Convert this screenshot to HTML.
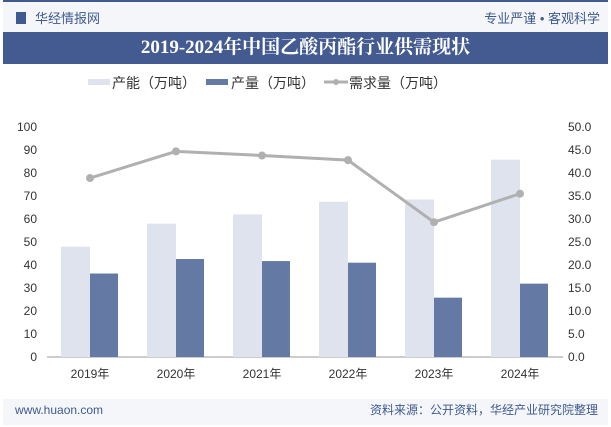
<!DOCTYPE html>
<html><head><meta charset="utf-8"><style>
body{margin:0;width:611px;height:427px;background:#fff;font-family:"Liberation Sans","Noto Sans CJK SC",sans-serif;overflow:hidden;position:relative}
.top{position:absolute;left:3px;top:0;width:605px;height:32px;background:#f4f6fa;border-top:2px solid #3f5a8f}
.title{position:absolute;left:3px;top:32px;width:605px;height:32px;background:#435b91;color:#fff;font-family:"Liberation Serif","Noto Serif CJK SC",serif;font-weight:bold;font-size:19px;text-align:center;line-height:32px}
.foot{position:absolute;left:3px;top:399px;width:605px;height:26px;background:#f4f6fa;font-size:12px;line-height:22px}
</style></head><body>
<div class="top">
 <span style="position:absolute;left:13px;top:10px;width:10px;height:12px;background:#3f5a8f"></span>
 <span style="position:absolute;left:32px;top:6px;font-size:13px;color:#3f5a8f">华经情报网</span>
 <span style="position:absolute;right:8px;top:6px;font-size:13px;color:#3f5a8f">专业严谨 • 客观科学</span>
</div>
<div class="title">2019-2024年中国乙酸丙酯行业供需现状</div>
<svg id="c" width="611" height="340" style="position:absolute;left:0;top:64px"></svg>
<div class="foot">
 <span style="position:absolute;left:12px;color:#3f5a8f">www.huaon.com</span>
 <span style="position:absolute;right:10px;color:#3f5a8f">资料来源：公开资料，华经产业研究院整理</span>
</div>
<script>
const categories=["2019年","2020年","2021年","2022年","2023年","2024年"];
const capacity=[48,58,62,67.5,68.5,85.8];
const production=[36.3,42.6,41.7,41,25.8,31.9];
const demand=[38.9,44.7,43.8,42.8,29.3,35.5];
const leftTicks=[0,10,20,30,40,50,60,70,80,90,100];
const rightTicks=["0.0","5.0","10.0","15.0","20.0","25.0","30.0","35.0","40.0","45.0","50.0"];
const NS="http://www.w3.org/2000/svg",svg=document.getElementById('c');
const oy=64,x0=47,x1=563,yb=357-oy,yt=127-oy;
const yL=v=>yb-(v/100)*(yb-yt), yR=v=>yb-(v/50)*(yb-yt);
const bw=(x1-x0)/categories.length, xc=i=>x0+bw*(i+0.5);
function mk(t,a,txt){const e=document.createElementNS(NS,t);for(const k in a)e.setAttribute(k,a[k]);if(txt!=null)e.textContent=txt;svg.appendChild(e);return e;}
let e;
leftTicks.forEach(v=>{e=mk('text',{x:x0-10,y:yL(v)+4,'text-anchor':'end','font-size':12,fill:'#333'},v);
});
rightTicks.forEach((v,i)=>{e=mk('text',{x:x1+5,y:yR(i*5)+4,'font-size':12,fill:'#333'},v);
});
e=mk('line',{x1:x0,x2:x1,y1:yb,y2:yb,stroke:'#999'});

categories.forEach((c,i)=>{
 e=mk('rect',{x:xc(i)-29,y:yL(capacity[i]),width:29,height:yb-yL(capacity[i]),fill:'#dfe3ee'});
 
 e=mk('rect',{x:xc(i),y:yL(production[i]),width:28,height:yb-yL(production[i]),fill:'#6479a3'});
 
 e=mk('text',{x:xc(i),y:yb+21,'text-anchor':'middle','font-size':12,fill:'#333'},c);
 
});
e=mk('polyline',{points:demand.map((v,i)=>xc(i)+','+yR(v)).join(' '),fill:'none',stroke:'#b0b0b0','stroke-width':3});

demand.forEach((v,i)=>{e=mk('circle',{cx:xc(i),cy:yR(v),r:4,fill:'#b0b0b0'});
});
const ly=82-oy;
e=mk('rect',{x:88,y:ly-3,width:22,height:6,fill:'#dfe3ee'});
e=mk('text',{x:112,y:ly+6,'font-size':14,fill:'#333'},'产能（万吨）');
e=mk('rect',{x:206,y:ly-3,width:22,height:6,fill:'#6479a3'});
e=mk('text',{x:231,y:ly+6,'font-size':14,fill:'#333'},'产量（万吨）');
e=mk('line',{x1:324,x2:348,y1:ly,y2:ly,stroke:'#b0b0b0','stroke-width':3});
e=mk('circle',{cx:336,cy:ly,r:3,fill:'#b0b0b0'});
e=mk('text',{x:349,y:ly+6,'font-size':14,fill:'#333'},'需求量（万吨）');
</script>
</body></html>
